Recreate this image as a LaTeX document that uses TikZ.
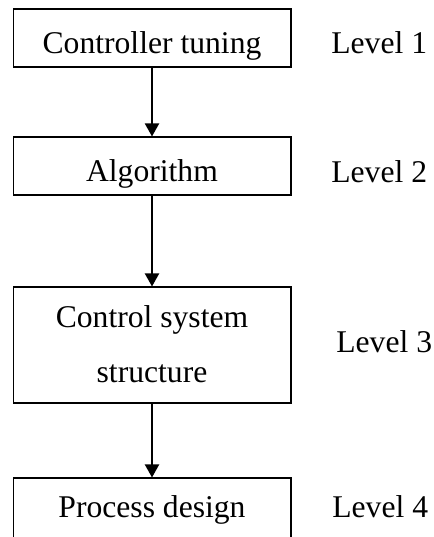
\documentclass[tikz,border=0pt]{standalone}
\usepackage{fontspec}
\setmainfont{Liberation Serif}
\usetikzlibrary{arrows.meta, positioning}
\tikzset{
  box/.style={draw, line width=0.6pt, minimum width=5.56cm, minimum height=1.16cm, text depth=0pt, font=\fontsize{18}{31.5}\selectfont},
  lvl/.style={anchor=base west, inner sep=0pt, font=\fontsize{18}{22}\selectfont},
  arr/.style={-{Triangle[width=0.28cm,length=0.26cm]}, line width=1.1pt}
}

\begin{document}
\begin{tikzpicture}[x=0.02cm, y=-0.02cm]
    \useasboundingbox (0,0) rectangle (433,537);
    % levels
    \node[box, text height=0.64cm] (ctrl) at (152,38) {Controller tuning};
    \node[box, text height=0.64cm] (algo) at (152,166) {Algorithm};
    \node[box, minimum height=2.32cm, align=center, text height=1.5cm] (struct) at (152,345) {Control system\\structure};
    \node[box, minimum height=1.28cm, text height=0.28cm] (proc) at (152,510) {Process design};
    \node[lvl] (lvone) at (331,54) {Level 1};
    \node[lvl] (lvtwo) at (331,182) {Level 2};
    \node[lvl] (lvthree) at (336,352) {Level 3};
    \node[lvl] (lvfour) at (332,517) {Level 4};
    % arrows
    \draw[arr] (ctrl) -- (algo);
    \draw[arr] (algo) -- (struct);
    \draw[arr] (struct) -- (proc);
  \end{tikzpicture}
\end{document}
